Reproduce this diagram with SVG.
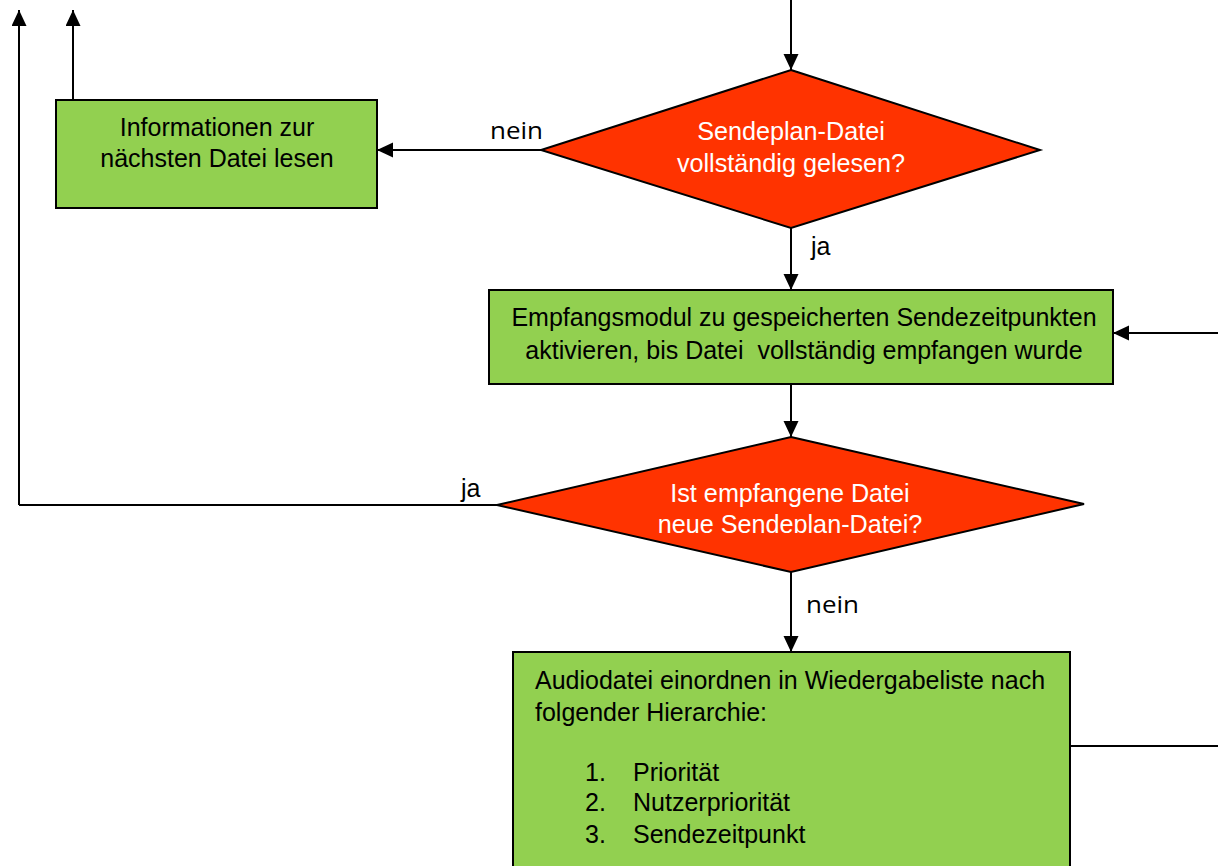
<svg xmlns="http://www.w3.org/2000/svg" width="1218" height="866" viewBox="0 0 1218 866">
<style>
.box{fill:#92D050;stroke:#000;stroke-width:2}
.dia{fill:#FF3300;stroke:#000;stroke-width:2}
.t{font-family:"Liberation Sans",Arial,sans-serif;font-size:25px;fill:#000}
.w{font-family:"Liberation Sans",Arial,sans-serif;font-size:25.2px;fill:#fff}
.c{text-anchor:middle}
.lb{font-family:"Open Sans","Noto Sans",sans-serif;font-size:24px;fill:#000}
.ln{fill:none;stroke:#000;stroke-width:2}
</style>
<defs>
<marker id="ah" markerUnits="userSpaceOnUse" markerWidth="18" markerHeight="16" refX="16" refY="7.5" orient="auto">
<path d="M0,0 L16,7.5 L0,15 z" fill="#000"/>
</marker>
<clipPath id="cl2"><rect x="0" y="0" width="1218" height="533"/></clipPath>
</defs>
<g id="connectors">
<path class="ln" d="M19,505 L19,10" marker-end="url(#ah)"/>
<path class="ln" d="M73,100 L73,10" marker-end="url(#ah)"/>
<path class="ln" d="M791,0 L791,70" marker-end="url(#ah)"/>
<path class="ln" d="M541,150 L377,150" marker-end="url(#ah)"/>
<path class="ln" d="M791,228 L791,290" marker-end="url(#ah)"/>
<path class="ln" d="M1218,333 L1113,333" marker-end="url(#ah)"/>
<path class="ln" d="M791,384 L791,437" marker-end="url(#ah)"/>
<path class="ln" d="M497,505 L19,505"/>
<path class="ln" d="M791,572 L791,652" marker-end="url(#ah)"/>
<path class="ln" d="M1070,746 L1218,746"/>
<text class="lb" x="490" y="139" textLength="53" lengthAdjust="spacingAndGlyphs">nein</text>
<text class="t" x="811" y="255" font-size="21">ja</text>
<text class="t" x="461" y="497" font-size="21">ja</text>
<text class="lb" x="806" y="613" textLength="53" lengthAdjust="spacingAndGlyphs">nein</text>
</g>
<g id="n_info">
<rect class="box" x="56" y="100" width="321" height="108"/>
<text class="t c" x="217" y="136">Informationen zur</text>
<text class="t c" x="217" y="167">nächsten Datei lesen</text>
</g>
<g id="n_dec1">
<polygon class="dia" points="791,70 1040,150 791,228 541,150"/>
<text class="w c" x="791" y="140">Sendeplan-Datei</text>
<text class="w c" x="791" y="172">vollständig gelesen?</text>
</g>
<g id="n_recv">
<rect class="box" x="489" y="290" width="624" height="94"/>
<text class="t c" x="804" y="326">Empfangsmodul zu gespeicherten Sendezeitpunkten</text>
<text class="t c" x="804" y="359" xml:space="preserve" style="white-space:pre">aktivieren, bis Datei  vollständig empfangen wurde</text>
</g>
<g id="n_dec2">
<polygon class="dia" points="791,437 1084,504 791,572 497,505"/>
<g clip-path="url(#cl2)">
<text class="w c" x="790" y="502">Ist empfangene Datei</text>
<text class="w c" x="790" y="533">neue Sendeplan-Datei?</text>
</g>
</g>
<g id="n_audio">
<rect class="box" x="513" y="652" width="557" height="230"/>
<text class="t" x="535" y="689">Audiodatei einordnen in Wiedergabeliste nach</text>
<text class="t" x="535" y="721">folgender Hierarchie:</text>
<text class="t" x="585" y="781">1.</text>
<text class="t" x="633" y="781">Priorität</text>
<text class="t" x="585" y="811">2.</text>
<text class="t" x="633" y="811">Nutzerpriorität</text>
<text class="t" x="585" y="843">3.</text>
<text class="t" x="633" y="843">Sendezeitpunkt</text>
</g>
</svg>
